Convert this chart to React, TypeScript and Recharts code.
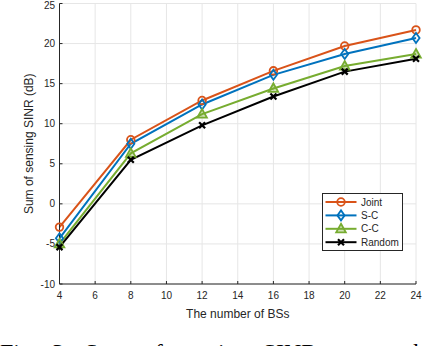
import React from 'react';
import { CartesianGrid, Legend, Line, LineChart, XAxis, YAxis } from 'recharts';

const bsCounts = [4, 8, 12, 16, 20, 24];
const jointSinr = [-2.9, 8.0, 12.9, 16.6, 19.7, 21.7];
const scSinr = [-4.3, 7.5, 12.4, 16.1, 18.7, 20.7];
const ccSinr = [-5.0, 6.3, 11.2, 14.4, 17.2, 18.7];
const randomSinr = [-5.4, 5.5, 9.8, 13.4, 16.5, 18.1];

const xTicks = [4, 6, 8, 10, 12, 14, 16, 18, 20, 22, 24];
const yTicks = [-10, -5, 0, 5, 10, 15, 20, 25];

const seriesNames = ['Joint', 'S-C', 'C-C', 'Random'];
const seriesKeys = ['joint', 'sc', 'cc', 'random'];
const seriesColors = ['#D95319', '#0072BD', '#77AC30', '#000000'];

const data = bsCounts.map((x, i) => ({
  x,
  joint: jointSinr[i],
  sc: scSinr[i],
  cc: ccSinr[i],
  random: randomSinr[i],
}));

const AXIS_COLOR = '#262626';
const FONT = '"Liberation Sans", Arial, Helvetica, sans-serif';

function Marker({ kind, cx, cy, color }: { kind: string; cx: number; cy: number; color: string }) {
  if (kind === 'joint') {
    return <circle cx={cx} cy={cy} r={3.8} fill="none" stroke={color} strokeWidth={1.8} />;
  }
  if (kind === 'sc') {
    return (
      <path
        d={`M${cx},${cy - 5} L${cx + 3.6},${cy} L${cx},${cy + 5} L${cx - 3.6},${cy} Z`}
        fill="none"
        stroke={color}
        strokeWidth={1.8}
      />
    );
  }
  if (kind === 'cc') {
    return (
      <path
        d={`M${cx},${cy - 5} L${cx + 4.8},${cy + 3.5} L${cx - 4.8},${cy + 3.5} Z`}
        fill={color}
        fillOpacity={0.35}
        stroke={color}
        strokeWidth={1.8}
      />
    );
  }
  return (
    <g stroke={color} strokeWidth={2.2}>
      <line x1={cx - 3} y1={cy - 3} x2={cx + 3} y2={cy + 3} />
      <line x1={cx - 3} y1={cy + 3} x2={cx + 3} y2={cy - 3} />
    </g>
  );
}

function makeDot(kind: string, color: string) {
  return (props: any) => (
    <Marker key={`${kind}-${props.index}`} kind={kind} cx={props.cx} cy={props.cy} color={color} />
  );
}

function LegendBox() {
  return (
    <svg width={81} height={58} style={{ fontFamily: FONT, display: 'block' }}>
      <rect x={0.5} y={0.5} width={80} height={57} fill="#fff" stroke={AXIS_COLOR} strokeWidth={1} />
      {seriesNames.map((name, i) => {
        const y = 9 + i * 13.4;
        return (
          <g key={name}>
            <line x1={3.5} x2={34.5} y1={y} y2={y} stroke={seriesColors[i]} strokeWidth={2} />
            <Marker kind={seriesKeys[i]} cx={19} cy={y} color={seriesColors[i]} />
            <text x={39} y={y + 3.6} fontSize={10} fill={AXIS_COLOR}>
              {name}
            </text>
          </g>
        );
      })}
    </svg>
  );
}

export default function App() {
  return (
    <div
      style={{
        position: 'absolute',
        left: 0,
        top: 0,
        width: 424,
        height: 346,
        overflow: 'hidden',
        background: '#fff',
      }}
    >
      <LineChart
        width={424}
        height={346}
        data={data}
        margin={{ top: 3.5, right: 8, bottom: 0, left: 0 }}
        style={{ fontFamily: FONT }}
      >
        <CartesianGrid stroke="#e6e6e6" strokeWidth={1} />
        <XAxis
          dataKey="x"
          type="number"
          domain={[4, 24]}
          ticks={xTicks}
          height={62}
          stroke={AXIS_COLOR}
          tickSize={-3}
          tickMargin={11}
          tick={{ fill: AXIS_COLOR, fontSize: 10 }}
          label={{
            value: 'The number of BSs',
            position: 'insideBottom',
            offset: 28.5,
            fill: AXIS_COLOR,
            fontSize: 12,
          }}
        />
        <XAxis
          xAxisId="top"
          orientation="top"
          dataKey="x"
          type="number"
          domain={[4, 24]}
          ticks={xTicks}
          height={0}
          stroke={AXIS_COLOR}
          tickSize={-3}
          tickFormatter={() => ''}
        />
        <YAxis
          type="number"
          domain={[-10, 25]}
          ticks={yTicks}
          width={59.5}
          stroke={AXIS_COLOR}
          tickSize={-3}
          tickMargin={7.5}
          tick={{ fill: AXIS_COLOR, fontSize: 10 }}
          label={{
            value: 'Sum of sensing SINR (dB)',
            angle: -90,
            position: 'insideLeft',
            offset: 29,
            fill: AXIS_COLOR,
            fontSize: 12,
            style: { textAnchor: 'middle' },
          }}
        />
        <YAxis
          yAxisId="right"
          orientation="right"
          type="number"
          domain={[-10, 25]}
          ticks={yTicks}
          width={0}
          stroke={AXIS_COLOR}
          tickSize={-3}
          tickFormatter={() => ''}
        />
        {seriesKeys.map((key, i) => (
          <Line
            key={key}
            type="linear"
            dataKey={key}
            name={seriesNames[i]}
            stroke={seriesColors[i]}
            strokeWidth={2}
            dot={makeDot(key, seriesColors[i])}
            activeDot={false}
            isAnimationActive={false}
          />
        ))}
        <Legend
          layout="vertical"
          align="center"
          verticalAlign="middle"
          content={() => <LegendBox />}
          wrapperStyle={{ left: 322, top: 193, width: 81, height: 58 }}
        />
      </LineChart>
      {/* caption is cropped by the frame, as in the source figure */}
      <div
        style={{
          position: 'absolute',
          left: 0,
          top: 338.5,
          whiteSpace: 'nowrap',
          fontFamily: '"Liberation Serif", "Times New Roman", serif',
          fontSize: 24,
          wordSpacing: 8,
          color: '#000',
        }}
      >
        Fig. 3: Sum of sensing SINR versus the number of BSs.
      </div>
    </div>
  );
}
